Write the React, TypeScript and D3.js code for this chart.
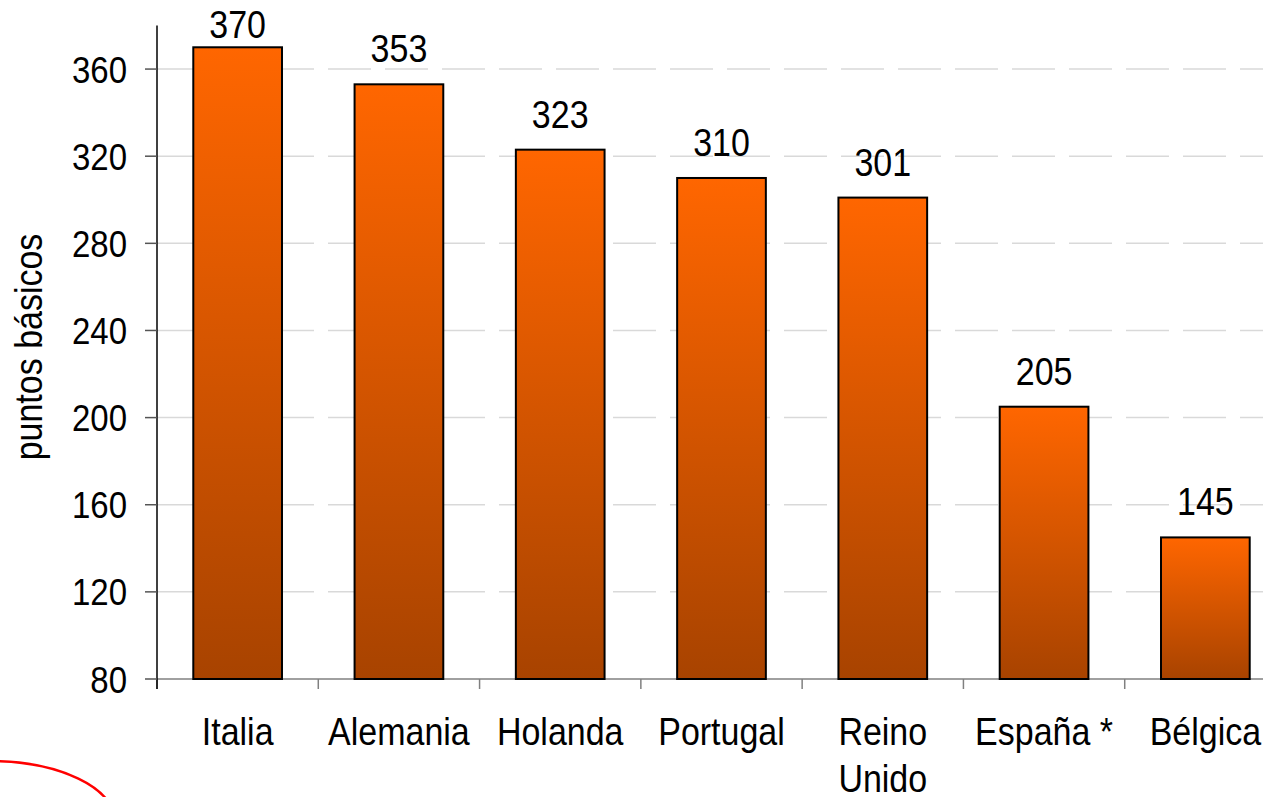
import React from "react";
import * as d3 from "d3";

const categories: string[][] = [
  ["Italia"],
  ["Alemania"],
  ["Holanda"],
  ["Portugal"],
  ["Reino", "Unido"],
  ["España *"],
  ["Bélgica"],
];
const values: number[] = [370, 353, 323, 310, 301, 205, 145];
const yTicks: number[] = [80, 120, 160, 200, 240, 280, 320, 360];
const yTitle = "puntos básicos";
const noteText = "2005";

const W = 1263;
const H = 797;
const FONT = "'Liberation Sans', Arial, Helvetica, sans-serif";
const SY = 1.14;

function T({
  x,
  y,
  anchor = "middle",
  dy,
  size = 34,
  children,
}: {
  x: number;
  y: number;
  anchor?: string;
  dy?: string;
  size?: number;
  children: React.ReactNode;
}) {
  return (
    <text
      transform={`translate(${x},${y}) scale(1,${SY})`}
      textAnchor={anchor}
      dy={dy}
      fontSize={size}
      fill="#000"
    >
      {children}
    </text>
  );
}

export default function App() {
  const left = 157;
  const right = 1286;
  const x = d3
    .scaleBand<number>()
    .domain(d3.range(categories.length))
    .range([left, right])
    .paddingInner(0.45)
    .paddingOuter(0.225);
  const bandStep = (right - left) / categories.length;
  const y = d3.scaleLinear().domain([80, 380]).range([679, 25.5]);

  return (
    <svg
      width={W}
      height={H}
      style={{ position: "absolute", left: 0, top: 0, background: "#fff" }}
      fontFamily={FONT}
    >
      <defs>
        <linearGradient id="barGrad" x1="0" y1="0" x2="0" y2="1">
          <stop offset="0" stopColor="#FF6600" />
          <stop offset="1" stopColor="#A84300" />
        </linearGradient>
      </defs>
      <rect x={0} y={0} width={W} height={H} fill="#fff" />
      {yTicks
        .filter((t) => t !== 80)
        .map((t) => (
          <line
            key={"g" + t}
            x1={left}
            x2={right}
            y1={y(t)}
            y2={y(t)}
            stroke="#d9d9d9"
            strokeWidth={1.5}
            strokeDasharray="43,14"
          />
        ))}
      <line x1={left} x2={right} y1={y(80)} y2={y(80)} stroke="#808080" strokeWidth={1.5} />
      {d3.range(categories.length + 1).map((i) => (
        <line
          key={"xt" + i}
          x1={left + i * bandStep}
          x2={left + i * bandStep}
          y1={y(80)}
          y2={y(80) + 10}
          stroke="#808080"
          strokeWidth={1.5}
        />
      ))}
      {values.map((v, i) => (
        <rect
          key={"b" + i}
          x={x(i)!}
          y={y(v)}
          width={x.bandwidth()}
          height={y(80) - y(v)}
          fill="url(#barGrad)"
          stroke="#000"
          strokeWidth={2}
        />
      ))}
      <line x1={left} x2={left} y1={y(380)} y2={y(80) + 10} stroke="#000" strokeWidth={1.5} />
      {yTicks.map((t) => (
        <g key={"yt" + t}>
          <line x1={left - 12} x2={left} y1={y(t)} y2={y(t)} stroke="#555" strokeWidth={1.5} />
          <T x={127} y={y(t)} dy="0.36em" anchor="end" size={33}>
            {t}
          </T>
        </g>
      ))}
      {values.map((v, i) => (
        <T key={"v" + i} x={x(i)! + x.bandwidth() / 2} y={Math.max(y(v) - 22, 38)}>
          {v}
        </T>
      ))}
      {categories.map((lines, i) =>
        lines.map((l, j) => (
          <T key={"c" + i + "_" + j} x={left + (i + 0.5) * bandStep} y={745 + j * 47}>
            {l}
          </T>
        ))
      )}
      <text
        transform={`translate(42, ${347}) rotate(-90) scale(1,${SY})`}
        textAnchor="middle"
        fontSize={34}
        fill="#000"
      >
        {yTitle}
      </text>
      <ellipse cx={-10} cy={821} rx={125} ry={60} fill="none" stroke="#FF0000" strokeWidth={2.5} />
      <text x={62} y={818} textAnchor="middle" fontSize={30} fill="#333">
        {noteText}
      </text>
    </svg>
  );
}
